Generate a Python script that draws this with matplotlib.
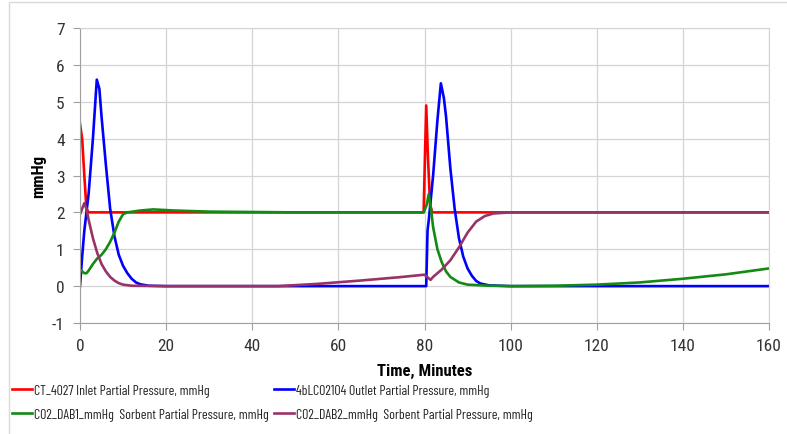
import matplotlib.pyplot as plt
from matplotlib.patches import Rectangle

# data (time in minutes, pressure in mmHg)
t_red = [0, 0.5, 1.0, 1.5, 2, 20, 40, 60, 79.8, 80.1, 80.4, 80.8, 81.3, 81.8, 90, 100, 110, 120, 140, 160]
y_red = [4.4, 4.0, 3.0, 2.1, 2.0, 2.0, 2.0, 2.0, 2.0, 3.5, 4.9, 3.5, 2.2, 2.0, 2.0, 2.0, 2.0, 2.0, 2.0, 2.0]

t_blue = [0, 0.5, 1, 2, 3, 3.9, 4.5, 5, 6, 7, 8, 9, 10, 11, 12, 13, 14, 16, 20, 40, 60, 80.4,
          80.7, 81, 82, 83, 83.8, 84.5, 85, 86, 87, 88, 89, 90, 91, 92, 93, 95, 100, 120, 140, 160]
y_blue = [0, 0.8, 1.5, 2.5, 4.0, 5.6, 5.35, 4.6, 3.3, 2.1, 1.35, 0.85, 0.55, 0.35, 0.2, 0.1, 0.05, 0.01, 0, 0, 0, 0,
          1.5, 1.8, 3.0, 4.5, 5.5, 5.1, 4.6, 3.2, 2.1, 1.3, 0.8, 0.48, 0.28, 0.14, 0.07, 0.02, 0, 0, 0, 0]

t_green = [0, 0.5, 1, 1.5, 2, 3, 4, 5, 6, 7, 8, 9, 10, 11, 14, 17, 22, 30, 50, 79.8,
           80.5, 81, 81.5, 82, 83, 84, 85, 86, 88, 90, 95, 100, 110, 120, 130, 140, 150, 160]
y_green = [0.45, 0.4, 0.35, 0.35, 0.42, 0.6, 0.75, 0.85, 1.0, 1.2, 1.45, 1.75, 1.95, 2.0, 2.05, 2.08, 2.05, 2.02, 2.0, 2.0,
           2.2, 2.5, 2.1, 1.6, 1.0, 0.65, 0.4, 0.25, 0.1, 0.04, 0.01, 0.0, 0.01, 0.04, 0.1, 0.2, 0.32, 0.48]

t_purple = [0, 0.5, 1, 1.5, 2, 3, 4, 5, 6, 7, 8, 9, 10, 12, 20, 46, 55, 65, 74, 80,
            81.4, 82, 84, 86, 88, 90, 92, 94, 96, 100, 110, 120, 130, 140, 150, 160]
y_purple = [1.95, 2.1, 2.25, 2.1, 1.8, 1.3, 0.9, 0.6, 0.4, 0.25, 0.15, 0.08, 0.04, 0.01, 0, 0, 0.06, 0.15, 0.24, 0.31,
            0.17, 0.25, 0.45, 0.7, 1.05, 1.45, 1.75, 1.9, 1.97, 2.0, 2.0, 2.0, 2.0, 2.0, 2.0, 2.0]

labels = ["CT_4027 Inlet Partial Pressure, mmHg",
          "4bLCO2104 Outlet Partial Pressure, mmHg",
          "CO2_DAB1_mmHg  Sorbent Partial Pressure, mmHg",
          "CO2_DAB2_mmHg  Sorbent Partial Pressure, mmHg"]
colors = ["#FF0000", "#0000FF", "#138A13", "#993366"]

# narrow fonts first (Excel's Calibri looks squeezed in the reference)
plt.rcParams['font.family'] = ['Roboto Condensed', 'PT Sans Narrow', 'Archivo Narrow', 'Carlito', 'Lato', 'DejaVu Sans']
plt.rcParams['axes.unicode_minus'] = False
LEGEND_FONTS = ['Barlow Condensed', 'Fira Sans Extra Condensed', 'Roboto Condensed', 'Lato', 'DejaVu Sans']

fig = plt.figure(figsize=(7.87, 4.35), dpi=100)
ax = fig.add_axes([80 / 787, 1 - 324 / 435, 689 / 787, 295 / 435])

lines = []
for tt, yy, c, lab in zip([t_red, t_blue, t_green, t_purple], [y_red, y_blue, y_green, y_purple], colors, labels):
    ln, = ax.plot(tt, yy, color=c, lw=1.9, label=lab)
    lines.append(ln)

ax.set_xlim(0, 160)
ax.set_ylim(-1, 7)
ax.set_xticks(range(0, 161, 20))
ax.set_yticks(range(-1, 8))
ax.grid(True, color="#D4D4D4", lw=0.9)
ax.set_axisbelow(True)
for s in ax.spines.values():
    s.set_color("#D4D4D4")
ax.spines['left'].set_color("#A0A0A0")
ax.spines['bottom'].set_color("#A0A0A0")
ax.tick_params(colors="#A0A0A0", labelcolor="#333333", labelsize=12.5, length=5, pad=6)

ax.set_xlabel("Time, Minutes", fontsize=12, fontweight="bold", labelpad=7)
ax.set_ylabel("mmHg", fontsize=12, fontweight="bold", labelpad=4)

# fit the legend font so the longest left-column label spans about 236 px
renderer = fig.canvas.get_renderer()
probe = fig.text(0, 0, labels[2], fontsize=10, family=LEGEND_FONTS)
w = probe.get_window_extent(renderer).width
probe.remove()
leg_size = min(11.5, 10 * 236 / w)

leg_kw = dict(loc="upper left", frameon=False, prop={'family': LEGEND_FONTS, 'size': leg_size},
              handletextpad=0.15, labelspacing=0.8, borderaxespad=0, borderpad=0,
              handlelength=20 / (leg_size * 100 / 72), labelcolor="#222222")
fig.legend(handles=[lines[0], lines[2]], bbox_to_anchor=(12 / 787, 1 - 385 / 435), **leg_kw)
fig.legend(handles=[lines[1], lines[3]], bbox_to_anchor=(274 / 787, 1 - 385 / 435), **leg_kw)

# outer chart border
fig.patches.append(Rectangle((9 / 787, -0.1), 1.2, 1.1 - 3 / 435, transform=fig.transFigure,
                             fill=False, edgecolor="#D9D9D9", lw=1))

fig.savefig("out.png", dpi=100)
